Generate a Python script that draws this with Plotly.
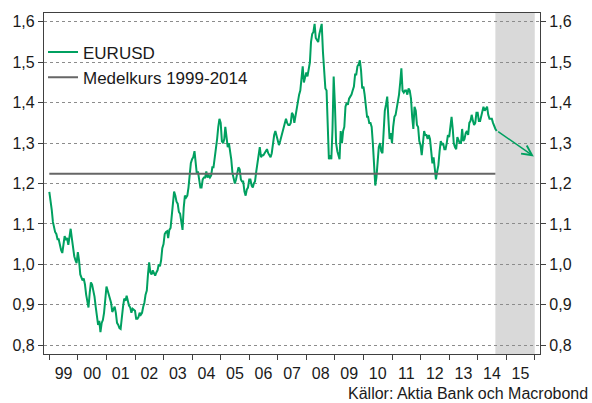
import pandas as pd
import plotly.graph_objects as go

# EURUSD, two readings per month (1st and 16th)
Y1999 = [1.179, 1.160, 1.135, 1.105, 1.090, 1.080, 1.075, 1.062, 1.062, 1.045, 1.035, 1.028,
         1.045, 1.070, 1.060, 1.065, 1.048, 1.070, 1.088, 1.065, 1.040, 1.020, 1.010, 1.003]
Y2000 = [1.030, 1.010, 0.975, 0.968, 0.960, 0.965, 0.950, 0.925, 0.910, 0.893, 0.930, 0.955,
         0.950, 0.935, 0.920, 0.895, 0.870, 0.850, 0.860, 0.832, 0.855, 0.862, 0.880, 0.915]
Y2001 = [0.945, 0.935, 0.925, 0.918, 0.905, 0.882, 0.890, 0.895, 0.880, 0.855, 0.850, 0.842,
         0.840, 0.875, 0.895, 0.915, 0.910, 0.922, 0.905, 0.898, 0.893, 0.880, 0.890, 0.888]
Y2002 = [0.885, 0.865, 0.865, 0.870, 0.880, 0.875, 0.880, 0.895, 0.905, 0.925, 0.935, 0.975,
         1.005, 0.980, 0.975, 0.985, 0.980, 0.972, 0.980, 0.985, 1.000, 0.995, 1.010, 1.040]
Y2003 = [1.050, 1.075, 1.080, 1.082, 1.065, 1.085, 1.090, 1.115, 1.150, 1.180, 1.170, 1.155,
         1.150, 1.130, 1.125, 1.100, 1.085, 1.140, 1.170, 1.165, 1.170, 1.190, 1.220, 1.250]
Y2004 = [1.260, 1.265, 1.280, 1.255, 1.225, 1.230, 1.205, 1.190, 1.190, 1.210, 1.215, 1.215,
         1.230, 1.215, 1.220, 1.215, 1.220, 1.240, 1.240, 1.260, 1.280, 1.310, 1.340, 1.360]
Y2005 = [1.350, 1.305, 1.300, 1.310, 1.340, 1.320, 1.290, 1.300, 1.280, 1.260, 1.225, 1.215,
         1.200, 1.210, 1.230, 1.240, 1.235, 1.210, 1.205, 1.205, 1.180, 1.170, 1.185, 1.190]
Y2006 = [1.210, 1.210, 1.195, 1.190, 1.200, 1.205, 1.230, 1.250, 1.280, 1.290, 1.265, 1.270,
         1.270, 1.275, 1.280, 1.285, 1.275, 1.270, 1.265, 1.275, 1.300, 1.320, 1.330, 1.320]
Y2007 = [1.310, 1.295, 1.305, 1.315, 1.330, 1.335, 1.350, 1.360, 1.350, 1.345, 1.345, 1.350,
         1.375, 1.370, 1.350, 1.370, 1.390, 1.410, 1.420, 1.430, 1.465, 1.490, 1.450, 1.465]
Y2008 = [1.475, 1.465, 1.480, 1.500, 1.550, 1.570, 1.575, 1.595, 1.560, 1.555, 1.550, 1.570,
         1.580, 1.595, 1.525, 1.475, 1.435, 1.430, 1.360, 1.260, 1.270, 1.260, 1.335, 1.465]
Y2009 = [1.395, 1.300, 1.280, 1.270, 1.260, 1.330, 1.300, 1.330, 1.340, 1.390, 1.400, 1.395,
         1.410, 1.415, 1.420, 1.430, 1.440, 1.470, 1.470, 1.490, 1.495, 1.505, 1.480, 1.435]
Y2010 = [1.440, 1.420, 1.380, 1.365, 1.365, 1.350, 1.350, 1.340, 1.300, 1.245, 1.195, 1.215,
         1.260, 1.290, 1.300, 1.280, 1.275, 1.320, 1.380, 1.395, 1.415, 1.360, 1.310, 1.325]
Y2011 = [1.300, 1.340, 1.365, 1.370, 1.385, 1.410, 1.420, 1.450, 1.485, 1.430, 1.425, 1.430,
         1.430, 1.420, 1.435, 1.430, 1.410, 1.365, 1.335, 1.390, 1.380, 1.345, 1.340, 1.305]
Y2012 = [1.295, 1.270, 1.310, 1.330, 1.320, 1.320, 1.310, 1.320, 1.310, 1.280, 1.250, 1.265,
         1.240, 1.210, 1.230, 1.245, 1.280, 1.305, 1.295, 1.300, 1.285, 1.285, 1.300, 1.320]
Y2013 = [1.315, 1.335, 1.365, 1.335, 1.300, 1.290, 1.285, 1.315, 1.305, 1.300, 1.300, 1.335,
         1.305, 1.310, 1.325, 1.330, 1.320, 1.350, 1.355, 1.370, 1.355, 1.345, 1.350, 1.375]
Y2014 = [1.375, 1.355, 1.355, 1.370, 1.380, 1.390, 1.380, 1.385, 1.390, 1.370, 1.360, 1.360,
         1.360, 1.350, 1.340, 1.335]
LAST_DATE = "2014-09-01"
LAST_VALUE = 1.330

MEAN_LABEL = "Medelkurs 1999-2014"
MEAN_VALUE = 1.224

ARROW_START = ("2014-09-01", 1.331)
ARROW_END = ("2015-12-20", 1.267)

FORECAST_START = "2014-08-15"
FORECAST_END = "2016-01-01"

X_RANGE = ["1998-10-25", "2016-03-08"]
Y_RANGE = [0.778, 1.622]

SOURCE = "Källor: Aktia Bank och Macrobond"

years = [Y1999, Y2000, Y2001, Y2002, Y2003, Y2004, Y2005, Y2006, Y2007,
         Y2008, Y2009, Y2010, Y2011, Y2012, Y2013, Y2014]
dates, values = [], []
for i, yv in enumerate(years):
    yr = 1999 + i
    for j, v in enumerate(yv):
        m = j // 2 + 1
        d = 1 if j % 2 == 0 else 16
        dates.append(pd.Timestamp(yr, m, d))
        values.append(v)
dates.append(pd.Timestamp(LAST_DATE))
values.append(LAST_VALUE)

GREEN = "#00a060"
GRAY = "#666666"
FRAME = "#404040"
FONT = "Liberation Sans, Arial, sans-serif"

fig = go.Figure()
fig.add_trace(go.Scatter(x=dates, y=values, mode="lines", name="EURUSD",
                         line=dict(color=GREEN, width=2)))
fig.add_trace(go.Scatter(x=[dates[0], pd.Timestamp(FORECAST_START)], y=[MEAN_VALUE, MEAN_VALUE],
                         mode="lines", name=MEAN_LABEL, line=dict(color=GRAY, width=2),
                         yaxis="y2"))

fig.add_shape(type="rect", xref="x", yref="paper", x0=FORECAST_START, x1=FORECAST_END,
              y0=0, y1=1, fillcolor="#d9d9d9", line=dict(width=0), layer="between")

fig.add_annotation(x=ARROW_END[0], y=ARROW_END[1], ax=ARROW_START[0], ay=ARROW_START[1],
                   xref="x", yref="y", axref="x", ayref="y", text="", showarrow=True,
                   arrowhead=5, arrowsize=1.3, arrowwidth=1.5, arrowcolor=GREEN)

fig.add_annotation(text=SOURCE, xref="paper", yref="paper", x=1.1002, y=-0.1144,
                   xanchor="right", yanchor="middle", showarrow=False,
                   font=dict(size=16, color="#1a1a1a", family=FONT))

yax = dict(range=Y_RANGE, tick0=0.8, dtick=0.1, tickformat=".1f",
           ticks="outside", ticklen=5, tickcolor=FRAME, tickwidth=1,
           showline=True, linecolor=FRAME, linewidth=1.3, zeroline=False,
           tickfont=dict(size=16, color="#1a1a1a", family=FONT))

fig.update_layout(
    width=592, height=403,
    margin=dict(l=41, r=52, t=13, b=49),
    paper_bgcolor="white", plot_bgcolor="white",
    separators=", ",
    font=dict(family=FONT, size=16, color="#1a1a1a"),
    showlegend=True,
    legend=dict(x=-0.002, y=0.937, xanchor="left", yanchor="top",
                bgcolor="rgba(0,0,0,0)", font=dict(size=17, family=FONT, color="#1a1a1a"),
                itemwidth=30, tracegroupgap=0),
    xaxis=dict(type="date", range=X_RANGE, tick0="1999-01-01", dtick="M12",
               tickformat="%y", ticklabelmode="period", ticks="outside", ticklen=5,
               tickcolor=FRAME, showline=True, linecolor=FRAME, linewidth=1.3,
               mirror=True, showgrid=False, zeroline=False,
               tickfont=dict(size=16, color="#1a1a1a", family=FONT)),
    yaxis=dict(**yax, showgrid=True, gridcolor="#8c8c8c", griddash="dot", gridwidth=1, side="left"),
    yaxis2=dict(**yax, showgrid=False, side="right", overlaying="y"),
)

fig.write_html("out.html", config={"displayModeBar": False},
               post_script="document.body.style.margin='0';")
